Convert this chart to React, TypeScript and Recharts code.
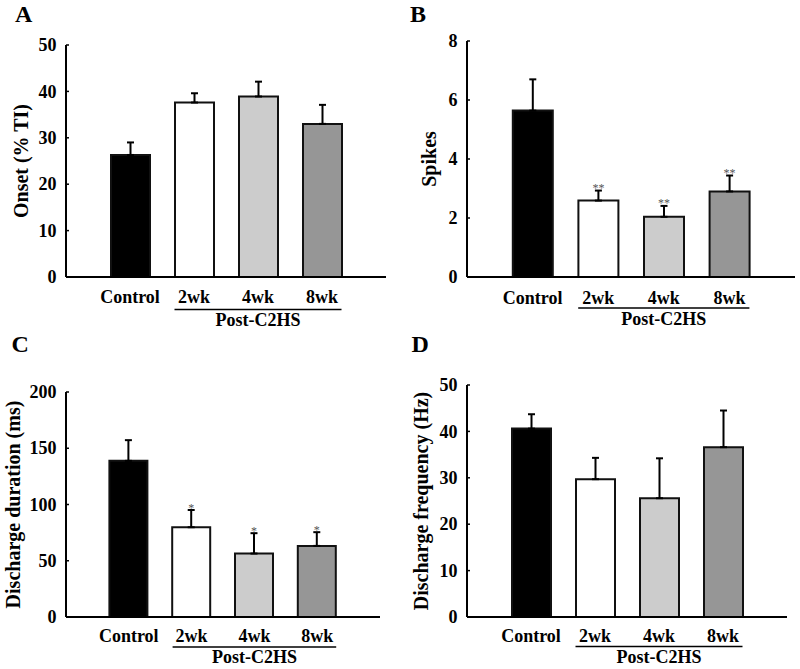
import React from "react";
import { BarChart, Bar, XAxis, YAxis, ErrorBar, Cell, LabelList, Label } from "recharts";

// ---------- data ----------
const categories = ["Control", "2wk", "4wk", "8wk"];
const groupLabel = "Post-C2HS";
const barColors = ["#000000", "#ffffff", "#cccccc", "#969696"];

const onsetMean = [26.3, 37.6, 38.9, 33.0];
const onsetErr = [2.7, 2.0, 3.2, 4.1];
const onsetTicks = [0, 10, 20, 30, 40, 50];

const spikesMean = [5.64, 2.59, 2.04, 2.9];
const spikesErr = [1.06, 0.34, 0.37, 0.54];
const spikesSig = ["", "**", "**", "**"];
const spikesTicks = [0, 2, 4, 6, 8];

const durationMean = [138.8, 79.8, 56.4, 63.2];
const durationErr = [18.4, 15.3, 18.1, 12.2];
const durationSig = ["", "*", "*", "*"];
const durationTicks = [0, 50, 100, 150, 200];

const freqMean = [40.6, 29.7, 25.6, 36.6];
const freqErr = [3.1, 4.6, 8.6, 7.9];
const freqTicks = [0, 10, 20, 30, 40, 50];

// ---------- helpers ----------
const FONT = '"Liberation Serif", "Times New Roman", Times, serif';

type Row = { name: string; value: number; err: [number, number]; errVal: number; sig: string };

function buildRows(means: number[], errs: number[], sig?: string[]): Row[] {
  return categories.map((name, i) => ({
    name,
    value: means[i],
    err: [0, errs[i]],
    errVal: errs[i],
    sig: sig ? sig[i] : "",
  }));
}

type Layout = {
  left: number;
  top: number;
  width: number;
  height: number;
  axisX: number;
  plotTop: number;
  plotBottom: number;
  plotRight: number;
  barSize: number;
  tickBase: number;
  lineOff: number;
  postBase: number;
  letterX: number;
  letterY: number;
  titleX: number;
};

type PanelProps = {
  letter: string;
  rows: Row[];
  ticks: number[];
  yTitle: string;
  layout: Layout;
};

function Panel({ letter, rows, ticks, yTitle, layout }: PanelProps) {
  const L = layout;
  const band = (L.plotRight - L.axisX) / 5;
  const yMax = ticks[ticks.length - 1];

  const YTick = (props: any) => {
    const { x, y, payload } = props;
    return (
      <g>
        <line x1={x} y1={y} x2={x + 3} y2={y} stroke="#000" strokeWidth={1.5} />
        <text
          x={x - 9.5}
          y={y}
          dy="0.34em"
          textAnchor="end"
          fontFamily={FONT}
          fontWeight="bold"
          fontSize={18}
          fill="#000"
        >
          {payload.value}
        </text>
      </g>
    );
  };

  const XTick = (props: any) => {
    const { x, y, payload } = props;
    const idx = categories.indexOf(payload.value);
    return (
      <g>
        <text
          x={x}
          y={y + L.tickBase}
          textAnchor="middle"
          fontFamily={FONT}
          fontWeight="bold"
          fontSize={18}
          fill="#000"
        >
          {payload.value}
        </text>
        {idx === 2 ? (
          <g>
            <line
              x1={x - band - L.barSize / 2}
              x2={x + band + L.barSize / 2}
              y1={y + L.lineOff}
              y2={y + L.lineOff}
              stroke="#000"
              strokeWidth={1.5}
            />
            <text
              x={x}
              y={y + L.postBase}
              textAnchor="middle"
              fontFamily={FONT}
              fontWeight="bold"
              fontSize={18}
              fill="#000"
            >
              {groupLabel}
            </text>
          </g>
        ) : null}
      </g>
    );
  };

  const TitleContent = (props: any) => {
    const vb = props.viewBox || { x: 0, y: L.plotTop, width: L.axisX, height: L.plotBottom - L.plotTop };
    const cx = vb.x + L.titleX;
    const cy = vb.y + vb.height / 2;
    return (
      <text
        x={cx}
        y={cy}
        dy="0.35em"
        transform={`rotate(-90, ${cx}, ${cy})`}
        textAnchor="middle"
        fontFamily={FONT}
        fontWeight="bold"
        fontSize={20}
        fill="#000"
      >
        {yTitle}
      </text>
    );
  };

  const SigLabel = (props: any) => {
    const { x, y, width, height, index, value } = props;
    if (!value || index === undefined || index === null) return null;
    const r = rows[index];
    if (!r || !r.value) return null;
    const pxPerUnit = Math.abs(height) / r.value;
    const capY = y - r.errVal * pxPerUnit;
    return (
      <text
        x={x + width / 2}
        y={capY + 1.5}
        textAnchor="middle"
        fontFamily={FONT}
        fontSize={12}
        fill="#555"
      >
        {value}
      </text>
    );
  };

  return (
    <div style={{ position: "absolute", left: L.left, top: L.top, width: L.width, height: L.height }}>
      <BarChart
        width={L.width}
        height={L.height}
        data={rows}
        margin={{ top: L.plotTop, right: L.width - L.plotRight, bottom: 0, left: 0 }}
      >
        <XAxis
          dataKey="name"
          type="category"
          height={L.height - L.plotBottom}
          padding={{ left: band / 2, right: band / 2 }}
          axisLine={{ stroke: "#000", strokeWidth: 2 }}
          tickLine={false}
          tickSize={0}
          tickMargin={0}
          tick={<XTick />}
          interval={0}
        />
        <YAxis
          type="number"
          width={L.axisX}
          domain={[0, yMax]}
          ticks={ticks}
          interval={0}
          axisLine={{ stroke: "#000", strokeWidth: 2 }}
          tickLine={false}
          tickSize={0}
          tickMargin={0}
          tick={<YTick />}
        >
          <Label content={<TitleContent />} />
        </YAxis>
        <Bar dataKey="value" barSize={L.barSize} stroke="#111" strokeWidth={2} isAnimationActive={false}>
          {rows.map((r, i) => (
            <Cell key={r.name} fill={barColors[i]} />
          ))}
          <ErrorBar dataKey="err" direction="y" width={3.5} stroke="#000" strokeWidth={2} isAnimationActive={false} />
          <LabelList dataKey="sig" content={<SigLabel />} />
        </Bar>
      </BarChart>
      <div
        style={{
          position: "absolute",
          left: L.letterX,
          top: L.letterY - 20,
          fontFamily: FONT,
          fontWeight: "bold",
          fontSize: 24,
          lineHeight: "24px",
          color: "#000",
        }}
      >
        {letter}
      </div>
    </div>
  );
}

const layoutA: Layout = {
  left: 0, top: 0, width: 400, height: 330,
  axisX: 66, plotTop: 45, plotBottom: 277, plotRight: 386, barSize: 39,
  tickBase: 26, lineOff: 32.5, postBase: 48.5, letterX: 15, letterY: 22, titleX: 20.5,
};
const layoutB: Layout = {
  left: 400, top: 0, width: 400, height: 330,
  axisX: 67, plotTop: 41, plotBottom: 277, plotRight: 395, barSize: 40,
  tickBase: 26.5, lineOff: 31, postBase: 47.7, letterX: 10, letterY: 21.5, titleX: 29,
};
const layoutC: Layout = {
  left: 0, top: 330, width: 400, height: 339,
  axisX: 66, plotTop: 62, plotBottom: 287, plotRight: 380, barSize: 38,
  tickBase: 24.5, lineOff: 30, postBase: 46, letterX: 11.5, letterY: 21.5, titleX: 12.5,
};
const layoutD: Layout = {
  left: 400, top: 330, width: 400, height: 339,
  axisX: 67, plotTop: 55, plotBottom: 287, plotRight: 387, barSize: 39,
  tickBase: 25, lineOff: 29.5, postBase: 45.5, letterX: 11.5, letterY: 21.5, titleX: 21,
};

export default function App() {
  return (
    <div style={{ position: "absolute", left: 0, top: 0, width: 800, height: 669, background: "#fff", overflow: "hidden" }}>
      <Panel letter="A" rows={buildRows(onsetMean, onsetErr)} ticks={onsetTicks} yTitle="Onset (% TI)" layout={layoutA} />
      <Panel letter="B" rows={buildRows(spikesMean, spikesErr, spikesSig)} ticks={spikesTicks} yTitle="Spikes" layout={layoutB} />
      <Panel
        letter="C"
        rows={buildRows(durationMean, durationErr, durationSig)}
        ticks={durationTicks}
        yTitle="Discharge duration (ms)"
        layout={layoutC}
      />
      <Panel letter="D" rows={buildRows(freqMean, freqErr)} ticks={freqTicks} yTitle="Discharge frequency (Hz)" layout={layoutD} />
    </div>
  );
}
